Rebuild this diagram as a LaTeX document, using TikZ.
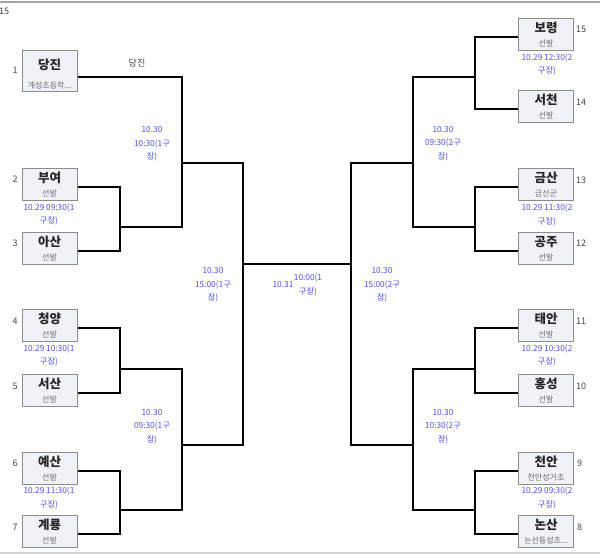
\documentclass[tikz,border=0pt]{standalone}
\usepackage{fontspec}
\setmainfont{Noto Sans CJK KR}
\definecolor{lblue}{RGB}{80,80,245}
\definecolor{boxfill}{RGB}{239,242,246}
\definecolor{boxline}{RGB}{140,140,140}
\definecolor{seedgray}{RGB}{68,68,68}
\definecolor{subgray}{RGB}{110,110,110}
\tikzset{
  teambox/.style={rectangle,draw=boxline,fill=boxfill,line width=1pt,minimum width=55pt,minimum height=32pt,inner sep=0pt},
  tallbox/.style={teambox,minimum height=41pt},
  teamname/.style={inner sep=0pt,font=\fontsize{12.5}{12.5}\selectfont\bfseries,text=black!85},
  teamsub/.style={inner sep=0pt,font=\fontsize{8}{8}\selectfont,text=subgray},
  seed/.style={inner sep=0pt,font=\fontsize{9}{9}\selectfont,text=seedgray},
  sched/.style={inner sep=0pt,align=center,font=\fontsize{8.3}{13.5}\selectfont,text=lblue},
  wire/.style={line width=2pt,black,line join=miter},
}
\begin{document}
\begin{tikzpicture}[x=1pt,y=-1pt]
\useasboundingbox (0,0) rectangle (600,554);
\draw[gray!70,line width=1.2pt] (0,2) -- (600,2);
\draw[gray!35,line width=2pt] (0,553) -- (600,553);
\node[seed,anchor=west] (topnum) at (-1,11) {15};

% ---------- left boxes ----------
\node[tallbox] (b1) at (49.5,70.5) {};
\node[teambox] (b2) at (49.5,184) {};
\node[teambox] (b3) at (49.5,248) {};
\node[teambox] (b4) at (49.5,325) {};
\node[teambox] (b5) at (49.5,390) {};
\node[teambox] (b6) at (49.5,468) {};
\node[teambox] (b7) at (49.5,531) {};
% ---------- right boxes ----------
\node[teambox] (r15) at (546,34) {};
\node[teambox] (r14) at (546,106) {};
\node[teambox] (r13) at (546,184) {};
\node[teambox] (r12) at (546,248) {};
\node[teambox] (r11) at (546,325) {};
\node[teambox] (r10) at (546,390) {};
\node[teambox] (r9) at (546,468) {};
\node[teambox] (r8) at (546,531) {};

% names and subtitles
\node[teamname] (n1) at ([yshift=6pt]b1.center) {당진};
\node[teamsub] (s1) at ([yshift=-14.5pt]b1.center) {계성초등학...};
\foreach \b/\nm/\sb in {b2/부여/선발,b3/아산/선발,b4/청양/선발,b5/서산/선발,b6/예산/선발,b7/계룡/선발,
  r15/보령/선발,r14/서천/선발,r13/금산/금산군,r12/공주/선발,r11/태안/선발,r10/홍성/선발,r9/천안/천안성거초}{
  \node[teamname] (n\b) at ([yshift=6pt]\b.center) {\nm};
  \node[teamsub] (s\b) at ([yshift=-9pt]\b.center) {\sb};
}
\node[teamname] (nr8) at ([yshift=6pt]r8.center) {논산};
\node[teamsub] (sr8) at ([yshift=-9pt]r8.center) {논산동성초...};

% seeds
\node[seed] (sd1) at (15,70) {1};
\node[seed] (sd2) at (15,179) {2};
\node[seed] (sd3) at (15,243) {3};
\node[seed] (sd4) at (15,321) {4};
\node[seed] (sd5) at (15,386) {5};
\node[seed] (sd6) at (15,463) {6};
\node[seed] (sd7) at (15,527) {7};
\node[seed,anchor=west] (sd15) at (576,29) {15};
\node[seed,anchor=west] (sd14) at (576,102) {14};
\node[seed,anchor=west] (sd13) at (576,180) {13};
\node[seed,anchor=west] (sd12) at (576,243) {12};
\node[seed,anchor=west] (sd11) at (576,321) {11};
\node[seed,anchor=west] (sd10) at (576,386) {10};
\node[seed,anchor=west] (sd9) at (577,463) {9};
\node[seed,anchor=west] (sd8) at (577,527) {8};

% joints
\coordinate (jA) at (120,227);
\coordinate (jB) at (120,369);
\coordinate (jC) at (120,510);
\coordinate (kA) at (182,163);
\coordinate (kB) at (182,445);
\coordinate (sL) at (243,264);
\coordinate (jD) at (475,77);
\coordinate (jE) at (475,227);
\coordinate (jF) at (475,369);
\coordinate (jG) at (475,510);
\coordinate (kC) at (413,163);
\coordinate (kD) at (413,445);
\coordinate (sR) at (351,264);

% left wires
\draw[wire] ([yshift=-3pt]b2.east) -| (jA) |- ([yshift=-3pt]b3.east);
\draw[wire] ([yshift=-3pt]b4.east) -| (jB) |- ([yshift=-3pt]b5.east);
\draw[wire] ([yshift=-3pt]b6.east) -| (jC) |- ([yshift=-3pt]b7.east);
\draw[wire] ([yshift=-6.5pt]b1.east) -| (kA);
\draw[wire] (jA) -| (kA);
\draw[wire] (jB) -| (kB);
\draw[wire] (jC) -| (kB);
\draw[wire] (kA) -| (sL);
\draw[wire] (kB) -| (sL);
\draw[wire] (sL) -- (sR);
% right wires
\draw[wire] ([yshift=-3pt]r15.west) -| (jD) |- ([yshift=-3pt]r14.west);
\draw[wire] ([yshift=-3pt]r13.west) -| (jE) |- ([yshift=-3pt]r12.west);
\draw[wire] ([yshift=-3pt]r11.west) -| (jF) |- ([yshift=-3pt]r10.west);
\draw[wire] ([yshift=-3pt]r9.west) -| (jG) |- ([yshift=-3pt]r8.west);
\draw[wire] (jD) -| (kC);
\draw[wire] (jE) -| (kC);
\draw[wire] (jF) -| (kD);
\draw[wire] (jG) -| (kD);
\draw[wire] (kC) -| (sR);
\draw[wire] (kD) -| (sR);

% labels
\node[seed] (adv) at (137,63) {당진};
\node[sched] (m1) at (49,214.5) {10.29 09:30(1\\구장)};
\node[sched] (m2) at (49,355.5) {10.29 10:30(1\\구장)};
\node[sched] (m3) at (49,498) {10.29 11:30(1\\구장)};
\node[sched] (m4) at (547,64.5) {10.29 12:30(2\\구장)};
\node[sched] (m5) at (547,215) {10.29 11:30(2\\구장)};
\node[sched] (m6) at (547,355.5) {10.29 10:30(2\\구장)};
\node[sched] (m7) at (547,498) {10.29 09:30(2\\구장)};
\node[sched] (q1) at (152,144) {10.30\\10:30(1구\\장)};
\node[sched] (q2) at (152,426.5) {10.30\\09:30(1구\\장)};
\node[sched] (q3) at (443,143.5) {10.30\\09:30(2구\\장)};
\node[sched] (q4) at (443,426.5) {10.30\\10:30(2구\\장)};
\node[sched] (h1) at (213,285) {10.30\\15:00(1구\\장)};
\node[sched] (h2) at (382,285) {10.30\\15:00(2구\\장)};
\node[sched] (fd) at (283,285) {10.31};
\node[sched] (ft) at (308,285) {10:00(1\\구장)};
\end{tikzpicture}
\end{document}
